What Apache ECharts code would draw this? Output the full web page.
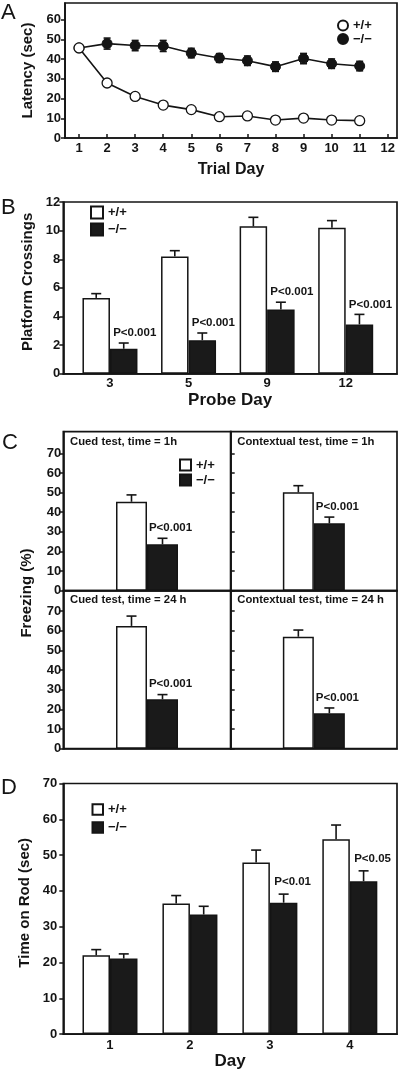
<!DOCTYPE html>
<html><head><meta charset="utf-8">
<script src="https://cdn.jsdelivr.net/npm/echarts@6/dist/echarts.min.js"></script>
<style>html,body{margin:0;padding:0;background:#fff}#c{width:400px;height:1071px}</style>
</head><body><div id="c"></div>
<script>
// ---------- Panel A : water maze latency ----------
const trialDays = [1,2,3,4,5,6,7,8,9,10,11];
const trialTicks = [1,2,3,4,5,6,7,8,9,10,11,12];
const latencyTicks = [0,10,20,30,40,50,60];
const latencyWT = [45.7,27.9,21.1,16.7,14.4,10.8,11.2,9.1,10.1,9.1,8.8];
const latencyWTErr = [1.5,1.5,1.5,1.3,1.3,1.0,1.0,1.0,1.0,1.0,1.0];
const latencyKO = [45.7,47.9,46.9,46.7,43.1,40.6,39.2,36.2,40.3,37.7,36.5];
const latencyKOErr = [1.5,2.8,2.6,2.8,2.4,2.2,2.4,2.4,2.6,2.4,2.4];
// ---------- Panel B : probe trials ----------
const probeDays = ['3','5','9','12'];
const crossTicks = [0,2,4,6,8,10,12];
const crossWT = [5.3,8.2,10.3,10.2];
const crossWTErr = [0.3,0.4,0.63,0.5];
const crossKO = [1.75,2.35,4.5,3.45];
const crossKOErr = [0.4,0.5,0.5,0.7];
const crossP = ['P<0.001','P<0.001','P<0.001','P<0.001'];
// ---------- Panel C : fear conditioning ----------
const fearTests = ['Cued test, time = 1h','Contextual test, time = 1h','Cued test, time = 24 h','Contextual test, time = 24 h'];
const freezeTicks = [0,10,20,30,40,50,60,70];
const freezeWT = [45.3,50.1,62.4,56.9];
const freezeWTErr = [3.5,3.4,5.0,3.4];
const freezeKO = [23.6,34.3,25.1,18.0];
const freezeKOErr = [3.1,3.2,2.4,2.7];
const freezeP = ['P<0.001','P<0.001','P<0.001','P<0.001'];
// ---------- Panel D : rotarod ----------
const rodDays = ['1','2','3','4'];
const rodTicks = [0,10,20,30,40,50,60,70];
const rodWT = [22.0,36.5,47.9,54.4];
const rodWTErr = [1.6,2.2,3.5,4.0];
const rodKO = [21.1,33.4,36.7,42.7];
const rodKOErr = [1.3,2.3,2.4,2.9];
const rodP = ['','','P<0.01','P<0.05'];
const genotypes = ['+/+','\u2212/\u2212'];

const FONT = '"Liberation Sans", Arial, Helvetica, sans-serif';
const INK = '#141414';
const LW = 1.7;
const lblStyle = (size) => ({fontFamily: FONT, fontWeight: 'bold', fontSize: size, color: INK});

function xAxis(gi, min, max, extra) {
  return Object.assign({
    type: 'value', gridIndex: gi, min: min, max: max,
    splitLine: {show: false},
    axisLine: {show: true, onZero: false, lineStyle: {color: INK, width: LW}},
    axisTick: {show: false}, axisLabel: {show: false}
  }, extra || {});
}
function yAxis(gi, max, ticks, showLabels, inside, margin, extra) {
  return Object.assign({
    type: 'value', gridIndex: gi, min: 0, max: max,
    splitLine: {show: false},
    axisLine: {show: true, onZero: false, lineStyle: {color: INK, width: LW}},
    axisTick: {show: true, inside: !!inside, length: 4, customValues: ticks, lineStyle: {color: INK, width: 1.5}},
    axisLabel: Object.assign({show: showLabels, customValues: ticks, margin: margin}, lblStyle(13))
  }, extra || {});
}
function errSeries(ai, pts, offset, capW, twoSided) {
  return {
    type: 'custom', xAxisIndex: ai, yAxisIndex: ai, data: pts, z: 3, silent: true, clip: false,
    encode: {x: 0, y: 1},
    renderItem: function (params, api) {
      const x = api.value(0), y = api.value(1), e = api.value(2);
      const p0 = api.coord([x, twoSided ? y - e : y]);
      const p1 = api.coord([x, y + e]);
      const cx = p0[0] + offset;
      const st = {stroke: INK, lineWidth: 1.6};
      const ch = [
        {type: 'line', shape: {x1: cx, y1: p0[1], x2: cx, y2: p1[1]}, style: st},
        {type: 'line', shape: {x1: cx - capW / 2, y1: p1[1], x2: cx + capW / 2, y2: p1[1]}, style: st}
      ];
      if (twoSided) ch.push({type: 'line', shape: {x1: cx - capW / 2, y1: p0[1], x2: cx + capW / 2, y2: p0[1]}, style: st});
      return {type: 'group', children: ch};
    }
  };
}
function pSeries(ai, pts, labels, dx, dy) {
  return {
    type: 'custom', xAxisIndex: ai, yAxisIndex: ai, data: pts, z: 5, silent: true, clip: false,
    encode: {x: 0, y: 1},
    renderItem: function (params, api) {
      const p = api.coord([api.value(0), api.value(1)]);
      return {type: 'text', x: p[0] + dx, y: p[1] + dy,
        style: {text: labels[params.dataIndex], fontFamily: FONT, fontWeight: 'bold', fontSize: 11.5,
          fill: INK, align: 'center', verticalAlign: 'middle'}};
    }
  };
}
function barPair(ai, tag, wt, ko, xs, bw) {
  return [
    {type: 'bar', name: tag + genotypes[0], xAxisIndex: ai, yAxisIndex: ai,
      data: wt.map((v, i) => [xs[i], v]), barWidth: bw, barGap: '0%', z: 2,
      itemStyle: {color: '#ffffff', borderColor: INK, borderWidth: 1.5}},
    {type: 'bar', name: tag + genotypes[1], xAxisIndex: ai, yAxisIndex: ai,
      data: ko.map((v, i) => [xs[i], v]), barWidth: bw, barGap: '0%', z: 2,
      itemStyle: {color: '#1a1a1a', borderColor: INK, borderWidth: 1.5}}
  ];
}
function legend(tag, left, top, size, gap, icon) {
  return {
    data: genotypes.map(g => ({name: tag + g, icon: icon})),
    orient: 'vertical', left: left, top: top, padding: 0, itemGap: gap,
    itemWidth: size, itemHeight: size, selectedMode: false,
    formatter: n => n.slice(1),
    textStyle: {fontFamily: FONT, fontWeight: 'bold', fontSize: 13, color: INK}
  };
}

const idx4 = [1,2,3,4];
const grids = [
  {left: 65, top: 3, width: 332, height: 135},
  {left: 63.3, top: 202, width: 333.7, height: 171.8},
  {left: 63.3, top: 431.7, width: 167.4, height: 159},
  {left: 230.7, top: 431.7, width: 166.3, height: 159},
  {left: 63.3, top: 590.7, width: 167.4, height: 158},
  {left: 230.7, top: 590.7, width: 166.3, height: 158},
  {left: 63.3, top: 783.5, width: 333.7, height: 255.8}
].map(g => Object.assign({show: true, borderColor: INK, borderWidth: LW, backgroundColor: 'transparent'}, g));

const xAxes = [
  xAxis(0, 0.5, 12.33, {
    name: 'Trial Day', nameLocation: 'middle', nameGap: 24, nameTextStyle: lblStyle(16),
    axisTick: {show: true, inside: true, length: 4, customValues: trialTicks, lineStyle: {color: INK, width: 1.5}},
    axisLabel: Object.assign({show: true, customValues: trialTicks, margin: 4}, lblStyle(13))
  }),
  xAxis(1, 0.406, 4.653, {
    name: 'Probe Day', nameLocation: 'middle', nameGap: 18, nameTextStyle: lblStyle(17),
    axisLabel: Object.assign({show: true, customValues: idx4, margin: 3, formatter: v => probeDays[v - 1]}, lblStyle(13))
  }),
  xAxis(2, 0, 2), xAxis(3, 0, 2), xAxis(4, 0, 2), xAxis(5, 0, 2),
  xAxis(6, 0.416, 4.59, {
    name: 'Day', nameLocation: 'middle', nameGap: 18, nameTextStyle: lblStyle(17),
    axisLabel: Object.assign({show: true, customValues: idx4, margin: 5, formatter: v => rodDays[v - 1]}, lblStyle(13))
  })
];
const yAxes = [
  yAxis(0, 68.5, latencyTicks, true, false, 4, {name: 'Latency (sec)', nameLocation: 'middle', nameGap: 30, nameTextStyle: lblStyle(15)}),
  yAxis(1, 12, crossTicks, true, false, 3, {name: 'Platform Crossings', nameLocation: 'middle', nameGap: 28, nameTextStyle: Object.assign({padding: [0, 0, 0, 12]}, lblStyle(15))}),
  yAxis(2, 81, freezeTicks, true, false, 2),
  yAxis(3, 81, freezeTicks, false, true, 2),
  yAxis(4, 80.3, freezeTicks, true, false, 2),
  yAxis(5, 80.3, freezeTicks, false, true, 2),
  yAxis(6, 70, rodTicks, true, false, 6, {name: 'Time on Rod (sec)', nameLocation: 'middle', nameGap: 29, nameTextStyle: Object.assign({padding: [0, 0, 0, 12]}, lblStyle(15))})
];

const series = [];
// Panel A
series.push(errSeries(0, trialDays.map((d, i) => [d, latencyKO[i], latencyKOErr[i]]), 0, 7, true));
series.push(errSeries(0, trialDays.map((d, i) => [d, latencyWT[i], latencyWTErr[i]]), 0, 7, true));
series.push({type: 'line', name: 'A' + genotypes[1], xAxisIndex: 0, yAxisIndex: 0, z: 4,
  data: trialDays.map((d, i) => [d, latencyKO[i]]), symbol: 'circle', symbolSize: 10,
  lineStyle: {color: INK, width: 1.6}, itemStyle: {color: INK, borderColor: INK, borderWidth: 1}});
series.push({type: 'line', name: 'A' + genotypes[0], xAxisIndex: 0, yAxisIndex: 0, z: 4,
  data: trialDays.map((d, i) => [d, latencyWT[i]]), symbol: 'circle', symbolSize: 10,
  lineStyle: {color: INK, width: 1.6}, itemStyle: {color: '#ffffff', borderColor: INK, borderWidth: 1.3}});
// Panel B
const bwB = 27.5;
series.push(...barPair(1, 'B', crossWT, crossKO, idx4, bwB));
series.push(errSeries(1, idx4.map((x, i) => [x, crossWT[i], crossWTErr[i]]), -bwB / 2, 10, false));
series.push(errSeries(1, idx4.map((x, i) => [x, crossKO[i], crossKOErr[i]]), bwB / 2, 10, false));
series.push(pSeries(1, idx4.map((x, i) => [x, crossKO[i] + crossKOErr[i]]), crossP, bwB / 2 + 11, -10));
// Panel C
const bwC = 31;
for (let k = 0; k < 4; k++) {
  const ai = 2 + k;
  series.push(...barPair(ai, 'C', [freezeWT[k]], [freezeKO[k]], [1], bwC));
  series.push(errSeries(ai, [[1, freezeWT[k], freezeWTErr[k]]], -bwC / 2, 10, false));
  series.push(errSeries(ai, [[1, freezeKO[k], freezeKOErr[k]]], bwC / 2, 10, false));
  series.push(pSeries(ai, [[1, freezeKO[k] + freezeKOErr[k]]], [freezeP[k]], bwC / 2 + 8, -10.5));
}
// Panel D
const bwD = 27.5;
series.push(...barPair(6, 'D', rodWT, rodKO, idx4, bwD));
series.push(errSeries(6, idx4.map((x, i) => [x, rodWT[i], rodWTErr[i]]), -bwD / 2, 10, false));
series.push(errSeries(6, idx4.map((x, i) => [x, rodKO[i], rodKOErr[i]]), bwD / 2, 10, false));
series.push(pSeries(6, idx4.map((x, i) => [x, rodKO[i] + rodKOErr[i]]), rodP, bwD / 2 + 9, -12));

const letter = (t, x, y) => ({type: 'text', x: x, y: y, style: {text: t, fontFamily: FONT, fontSize: 22, fill: INK, align: 'left', verticalAlign: 'middle'}});
const sub = (t, x, y) => ({type: 'text', x: x, y: y, style: {text: t, fontFamily: FONT, fontWeight: 'bold', fontSize: 11.3, fill: INK, align: 'left', verticalAlign: 'middle'}});

const option = {
  animation: false,
  backgroundColor: '#ffffff',
  grid: grids, xAxis: xAxes, yAxis: yAxes, series: series,
  legend: [
    legend('A', 337, 19, 10, 0.5, 'circle'),
    legend('B', 90, 205.5, 12, 3, 'rect'),
    legend('C', 179, 458.5, 11, 2, 'rect'),
    legend('D', 91.5, 803, 10.5, 5, 'rect')
  ],
  graphic: [
    letter('A', 1, 13), letter('B', 1, 208), letter('C', 2, 443), letter('D', 1, 788),
    sub(fearTests[0], 70, 441.7), sub(fearTests[1], 237.3, 441.7),
    sub(fearTests[2], 70, 599.5), sub(fearTests[3], 237.3, 599.5),
    {type: 'text', x: 27, y: 593, rotation: Math.PI / 2,
      style: {text: 'Freezing (%)', fontFamily: FONT, fontWeight: 'bold', fontSize: 15, fill: INK, align: 'center', verticalAlign: 'middle'}}
  ]
};
const chart = echarts.init(document.getElementById('c'), null, {renderer: 'canvas', width: 400, height: 1071});
chart.setOption(option);
</script></body></html>
